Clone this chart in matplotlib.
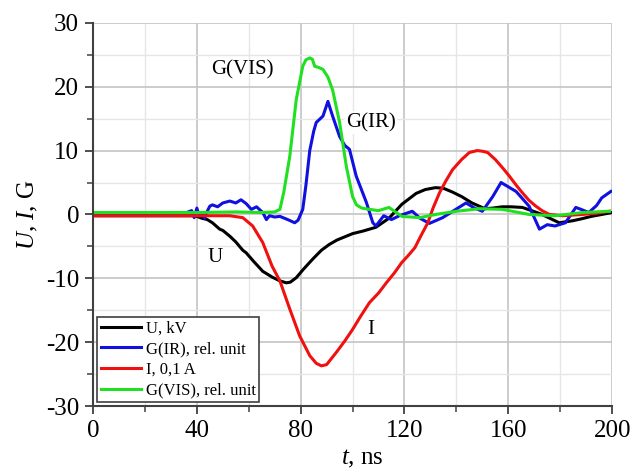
import matplotlib
matplotlib.use("Agg")
import matplotlib.pyplot as plt
from matplotlib.ticker import MultipleLocator

plt.rcParams['font.family'] = ['Liberation Serif', 'DejaVu Serif']
plt.rcParams['axes.unicode_minus'] = False
plt.rcParams['mathtext.fontset'] = 'custom'
plt.rcParams['mathtext.it'] = 'Liberation Serif:italic'
plt.rcParams['mathtext.rm'] = 'Liberation Serif'

# U, kV
t_u = [0, 20, 38, 40, 42, 44, 46, 48.8, 50, 52.7, 55, 57.7, 59, 62, 65.4, 69, 72,
       74.5, 76, 78.3, 81, 84.6, 88, 91, 94, 97.6, 100, 104, 109, 114, 119, 124.5,
       128, 132, 135, 138.5, 142, 146, 151, 154, 157.7, 161, 165.4, 169, 173, 176,
       179.6, 184.6, 188, 192, 196, 200]
u = [-0.2, -0.2, -0.2, -0.3, -0.6, -0.8, -1.3, -2.3, -2.5, -3.4, -4.3, -5.6, -6.0,
     -7.4, -8.9, -9.8, -10.4, -10.7, -10.6, -9.9, -8.6, -7.0, -5.6, -4.7, -4.0,
     -3.4, -3.0, -2.6, -2.0, -0.6, 1.6, 3.3, 3.9, 4.2, 4.1, 3.5, 2.8, 1.8, 0.9,
     1.0, 1.2, 1.2, 1.1, 0.6, 0.0, -0.6, -1.3, -1.0, -0.7, -0.3, 0.0, 0.3]

# G(IR), rel. unit
t_ir = [0, 20, 36, 38, 39, 40, 41, 42, 43, 44, 45, 46, 48, 50, 52.7, 55, 57, 59,
        61, 63, 65.4, 66.8, 68, 70, 72, 75, 77.7, 79, 80.8, 82, 83.5, 85, 86, 88.6,
        90.5, 92.3, 95, 97, 98.8, 101.4, 103.5, 105.3, 107.8, 109, 112, 115, 118,
        123, 126, 129.6, 134.7, 139, 143.7, 147, 150, 154, 157.2, 163, 168, 172,
        175, 178, 182, 186, 188, 191, 194, 196, 199.5]
ir = [0.2, 0.2, 0.3, 0.6, -0.5, 1.0, -0.3, 0.2, -0.6, 0.5, 1.3, 1.5, 1.2, 1.8,
      2.1, 1.8, 2.3, 1.7, 0.8, 1.2, 0.3, -0.8, -0.2, -0.4, -0.3, -0.8, -1.3, -0.9,
      0.8, 4.5, 10.0, 13.0, 14.4, 15.4, 17.7, 15.4, 12.2, 10.8, 10.2, 6.0, 3.8,
      1.9, -1.3, -1.8, -0.2, -0.8, -0.2, 0.5, -0.6, -1.4, -0.5, 0.6, 1.8, 1.0,
      0.5, 2.8, 5.0, 3.6, 1.3, -2.3, -1.6, -1.8, -1.3, 1.1, 0.8, 0.3, 1.4, 2.6, 3.6]

# I, 0,1 A
t_i = [0, 20, 40, 46, 52.7, 57.7, 61.5, 65.4, 69, 72, 75.8, 79.6, 83.5, 86, 88,
       90, 93.7, 97, 100, 103, 106.5, 110, 113, 116, 119, 121.5, 124, 126.5, 129,
       131, 133.5, 136, 138.5, 142, 145, 148, 150, 152, 155, 158, 160.4, 163,
       165.4, 168, 170.6, 173, 175.8, 180.8, 188.5, 194, 199]
i_cur = [-0.2, -0.2, -0.2, -0.2, -0.2, -0.5, -1.8, -4.4, -8.1, -10.4, -14.8,
         -19.0, -22.1, -23.3, -23.7, -23.5, -21.6, -19.8, -18.0, -16.0, -13.8,
         -12.3, -10.7, -9.2, -7.5, -6.4, -5.2, -3.2, -1.3, 1.0, 3.4, 5.3, 7.0, 8.6,
         9.7, 10.0, 9.9, 9.7, 8.6, 7.2, 6.0, 4.6, 3.4, 2.2, 1.3, 0.6, 0.0, -0.2,
         0.0, 0.2, 0.5]

# G(VIS), rel. unit
t_vis = [0, 20, 40, 55, 65, 70, 72, 73.5, 75.8, 78.3, 80.8, 82, 83.5, 84.5, 85.4,
         87, 88.6, 90.5, 92.3, 95, 97.6, 100, 101.5, 103.5, 106.5, 110, 114, 119,
         125.8, 132, 140, 149, 157.7, 168, 178, 188.5, 199]
vis = [0.3, 0.3, 0.3, 0.4, 0.3, 0.4, 0.8, 3.5, 9.1, 18.0, 23.2, 24.2, 24.5, 24.3,
       23.2, 23.0, 22.7, 21.5, 19.5, 14.4, 7.5, 2.8, 1.5, 1.0, 0.8, 0.6, 1.1,
       -0.3, -0.5, 0.0, 0.5, 0.9, 0.8, 0.0, -0.2, 0.3, 0.5]

fig = plt.figure(figsize=(6.35, 4.75), dpi=100)
ax = fig.add_axes([0.1465, 0.145, 0.8175, 0.807])

ax.plot(t_u, u, color='black', lw=2.2, label='U, kV')
ax.plot(t_ir, ir, color='#1010e0', lw=2.2, label='G(IR), rel. unit')
ax.plot(t_i, i_cur, color='#f01010', lw=2.2, label='I, 0,1 A')
ax.plot(t_vis, vis, color='#20e020', lw=2.2, label='G(VIS), rel. unit')

ax.set_xlim(0, 200)
ax.set_ylim(-30, 30)
ax.xaxis.set_major_locator(MultipleLocator(40))
ax.xaxis.set_minor_locator(MultipleLocator(20))
ax.yaxis.set_major_locator(MultipleLocator(10))
ax.yaxis.set_minor_locator(MultipleLocator(5))
ax.grid(which='major', color='#c4c4c4', lw=1.2)
ax.grid(which='minor', color='#e6e6e6', lw=1.0)
ax.set_axisbelow(True)

for s in ['top', 'right']:
    ax.spines[s].set_visible(False)
for s in ['left', 'bottom']:
    ax.spines[s].set_color('#404040')
    ax.spines[s].set_linewidth(1.5)
ax.tick_params(which='major', direction='out', length=6, width=1.3, color='#404040',
               labelsize=18, pad=4)
ax.tick_params(which='minor', direction='out', length=4, width=1.1, color='#404040')

ax.set_xlabel(r'$t$, ns', fontsize=18)
ax.xaxis.set_label_coords(0.518, -0.11)
ax.set_ylabel(r'$U$, $I$, G', fontsize=18, labelpad=4)

ax.text(57.7, 22.6, 'G(VIS)', fontsize=15, ha='center', va='center')
ax.text(107, 14.4, 'G(IR)', fontsize=15, ha='center', va='center',
        bbox=dict(facecolor='white', edgecolor='none', pad=1))
ax.text(47, -6.7, 'U', fontsize=15, ha='center', va='center')
ax.text(107, -18, 'I', fontsize=15, ha='center', va='center')

leg = ax.legend(loc='lower left', fontsize=12, frameon=True, fancybox=False,
                borderpad=0.2, labelspacing=0.28, handlelength=2.4,
                handletextpad=0.3, borderaxespad=0.25)
leg.get_frame().set_edgecolor('#404040')
leg.get_frame().set_linewidth(1.2)
leg.get_frame().set_alpha(1)

fig.savefig('out.png', dpi=100)
